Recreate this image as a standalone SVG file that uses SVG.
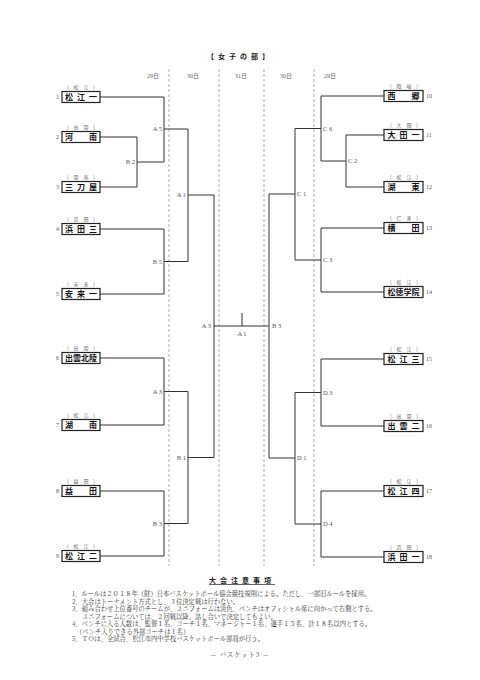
<svg xmlns="http://www.w3.org/2000/svg" width="480" height="680" viewBox="0 0 480 680">
<style>
.bg{fill:#fff}
.dash{stroke:#999;stroke-width:0.8;stroke-dasharray:3,2;fill:none}
.con{stroke:#333;stroke-width:1;fill:none}
.box{fill:#fff;stroke:#222;stroke-width:1.2}
.tn{font-family:"Noto Sans CJK JP","Noto Sans CJK SC",sans-serif;font-size:8px;font-weight:bold;fill:#111}
.rg{font-family:"Noto Sans CJK JP",sans-serif;font-size:5px;fill:#666}
.num{font-family:"Liberation Serif","Noto Sans CJK JP",serif;font-size:6px;fill:#555}
.lb{font-family:"Liberation Serif","Noto Sans CJK JP",serif;font-size:6.5px;fill:#555}
.dt{font-family:"Liberation Serif","Noto Sans CJK JP",serif;font-size:6px;fill:#666}
.tt{font-family:"Noto Sans CJK JP",sans-serif;font-size:7px;font-weight:bold;fill:#222}
.nt{font-family:"Noto Serif CJK JP","Noto Sans CJK JP",serif;font-size:6.3px;fill:#333}
</style>
<rect class="bg" x="0" y="0" width="480" height="680"/>
<text class="tt" x="240" y="59" text-anchor="middle" letter-spacing="4">【女子の部】</text>
<g id="dates">
<text class="dt" x="153" y="78" text-anchor="middle">29日</text>
<text class="dt" x="193" y="78" text-anchor="middle">30日</text>
<text class="dt" x="241" y="78" text-anchor="middle">31日</text>
<text class="dt" x="286" y="78" text-anchor="middle">30日</text>
<text class="dt" x="330" y="78" text-anchor="middle">29日</text>
</g>
<g id="dividers">
<line class="dash" x1="169" y1="69" x2="169" y2="566"/>
<line class="dash" x1="219" y1="69" x2="219" y2="566"/>
<line class="dash" x1="264" y1="69" x2="264" y2="566"/>
<line class="dash" x1="314" y1="69" x2="314" y2="566"/>
</g>
<g id="connectors">
<path class="con" d="M100,97H164V162M100,137H137V187H100M137,162H164M164,129H188"/>
<path class="con" d="M100,229H164V294H100M164,261.5H188M188,129V261.5M188,195H214"/>
<path class="con" d="M100,358H164V425H100M164,391.5H188M100,491H164V556H100M164,523.5H188M188,391.5V523.5M188,457.5H214"/>
<path class="con" d="M214,195V457.5M214,326H269M242,313V326"/>
<path class="con" d="M384,96H321V161M321,128.5H295M384,135H346V187H384M346,161H321"/>
<path class="con" d="M384,228H321V292H384M321,260H295M295,128.5V260M295,194H269"/>
<path class="con" d="M384,359H321V426H384M321,392.5H295M384,491H321V557H384M321,524H295M295,392.5V524M295,458H269M269,194V458"/>
</g>
<g id="round-labels">
<text class="lb" x="162" y="130.5" text-anchor="end">A 5</text>
<text class="lb" x="135" y="164" text-anchor="end">B 2</text>
<text class="lb" x="162" y="263.5" text-anchor="end">B 5</text>
<text class="lb" x="162" y="393.5" text-anchor="end">A 3</text>
<text class="lb" x="162" y="525.5" text-anchor="end">B 3</text>
<text class="lb" x="186" y="197" text-anchor="end">A 1</text>
<text class="lb" x="186" y="459.5" text-anchor="end">B 1</text>
<text class="lb" x="211" y="328" text-anchor="end">A 3</text>
<text class="lb" x="272" y="328">B 3</text>
<text class="lb" x="242" y="336" text-anchor="middle">A 1</text>
<text class="lb" x="323" y="130.5">C 6</text>
<text class="lb" x="348" y="163">C 2</text>
<text class="lb" x="323" y="262">C 3</text>
<text class="lb" x="297" y="196">C 1</text>
<text class="lb" x="323" y="394.5">D 3</text>
<text class="lb" x="323" y="526">D 4</text>
<text class="lb" x="297" y="460">D 1</text>
</g>
<g id="team1"><text class="rg" x="67" y="89" textLength="28" lengthAdjust="spacing">( 松 江 )</text><rect class="box" x="62" y="91.5" width="38" height="11"/><text class="tn" x="65" y="100.3" textLength="32" lengthAdjust="spacing">松江一</text><text class="num" x="59" y="99" text-anchor="end">1</text></g>
<g id="team2"><text class="rg" x="67" y="129" textLength="28" lengthAdjust="spacing">( 出 雲 )</text><rect class="box" x="62" y="131.5" width="38" height="11"/><text class="tn" x="65" y="140.3" textLength="32" lengthAdjust="spacing">河南</text><text class="num" x="59" y="139" text-anchor="end">2</text></g>
<g id="team3"><text class="rg" x="67" y="179" textLength="28" lengthAdjust="spacing">( 雲 南 )</text><rect class="box" x="62" y="181.5" width="38" height="11"/><text class="tn" x="65" y="190.3" textLength="32" lengthAdjust="spacing">三刀屋</text><text class="num" x="59" y="189" text-anchor="end">3</text></g>
<g id="team4"><text class="rg" x="67" y="221" textLength="28" lengthAdjust="spacing">( 浜 田 )</text><rect class="box" x="62" y="223.5" width="38" height="11"/><text class="tn" x="65" y="232.3" textLength="32" lengthAdjust="spacing">浜田三</text><text class="num" x="59" y="231" text-anchor="end">4</text></g>
<g id="team5"><text class="rg" x="67" y="286" textLength="28" lengthAdjust="spacing">( 安 来 )</text><rect class="box" x="62" y="288.5" width="38" height="11"/><text class="tn" x="65" y="297.3" textLength="32" lengthAdjust="spacing">安来一</text><text class="num" x="59" y="296" text-anchor="end">5</text></g>
<g id="team6"><text class="rg" x="67" y="350" textLength="28" lengthAdjust="spacing">( 出 雲 )</text><rect class="box" x="62" y="352.5" width="38" height="11"/><text class="tn" x="65" y="361.3" textLength="32" lengthAdjust="spacing">出雲北陵</text><text class="num" x="59" y="360" text-anchor="end">6</text></g>
<g id="team7"><text class="rg" x="67" y="417" textLength="28" lengthAdjust="spacing">( 松 江 )</text><rect class="box" x="62" y="419.5" width="38" height="11"/><text class="tn" x="65" y="428.3" textLength="32" lengthAdjust="spacing">湖南</text><text class="num" x="59" y="427" text-anchor="end">7</text></g>
<g id="team8"><text class="rg" x="67" y="483" textLength="28" lengthAdjust="spacing">( 益 田 )</text><rect class="box" x="62" y="485.5" width="38" height="11"/><text class="tn" x="65" y="494.3" textLength="32" lengthAdjust="spacing">益田</text><text class="num" x="59" y="493" text-anchor="end">8</text></g>
<g id="team9"><text class="rg" x="67" y="548" textLength="28" lengthAdjust="spacing">( 松 江 )</text><rect class="box" x="62" y="550.5" width="38" height="11"/><text class="tn" x="65" y="559.3" textLength="32" lengthAdjust="spacing">松江二</text><text class="num" x="59" y="558" text-anchor="end">9</text></g>
<g id="team10"><text class="rg" x="390" y="88" textLength="28" lengthAdjust="spacing">( 隠 岐 )</text><rect class="box" x="384" y="90.5" width="39" height="11"/><text class="tn" x="387.5" y="99.3" textLength="32" lengthAdjust="spacing">西郷</text><text class="num" x="426" y="98">10</text></g>
<g id="team11"><text class="rg" x="390" y="127" textLength="28" lengthAdjust="spacing">( 大 田 )</text><rect class="box" x="384" y="129.5" width="39" height="11"/><text class="tn" x="387.5" y="138.3" textLength="32" lengthAdjust="spacing">大田一</text><text class="num" x="426" y="137">11</text></g>
<g id="team12"><text class="rg" x="390" y="179" textLength="28" lengthAdjust="spacing">( 松 江 )</text><rect class="box" x="384" y="181.5" width="39" height="11"/><text class="tn" x="387.5" y="190.3" textLength="32" lengthAdjust="spacing">湖東</text><text class="num" x="426" y="189">12</text></g>
<g id="team13"><text class="rg" x="390" y="220" textLength="28" lengthAdjust="spacing">( 仁 多 )</text><rect class="box" x="384" y="222.5" width="39" height="11"/><text class="tn" x="387.5" y="231.3" textLength="32" lengthAdjust="spacing">横田</text><text class="num" x="426" y="230">13</text></g>
<g id="team14"><text class="rg" x="390" y="284" textLength="28" lengthAdjust="spacing">( 松 江 )</text><rect class="box" x="384" y="286.5" width="39" height="11"/><text class="tn" x="387.5" y="295.3" textLength="32" lengthAdjust="spacing">松徳学院</text><text class="num" x="426" y="294">14</text></g>
<g id="team15"><text class="rg" x="390" y="351" textLength="28" lengthAdjust="spacing">( 松 江 )</text><rect class="box" x="384" y="353.5" width="39" height="11"/><text class="tn" x="387.5" y="362.3" textLength="32" lengthAdjust="spacing">松江三</text><text class="num" x="426" y="361">15</text></g>
<g id="team16"><text class="rg" x="390" y="418" textLength="28" lengthAdjust="spacing">( 出 雲 )</text><rect class="box" x="384" y="420.5" width="39" height="11"/><text class="tn" x="387.5" y="429.3" textLength="32" lengthAdjust="spacing">出雲二</text><text class="num" x="426" y="428">16</text></g>
<g id="team17"><text class="rg" x="390" y="483" textLength="28" lengthAdjust="spacing">( 松 江 )</text><rect class="box" x="384" y="485.5" width="39" height="11"/><text class="tn" x="387.5" y="494.3" textLength="32" lengthAdjust="spacing">松江四</text><text class="num" x="426" y="493">17</text></g>
<g id="team18"><text class="rg" x="390" y="549" textLength="28" lengthAdjust="spacing">( 浜 田 )</text><rect class="box" x="384" y="551.5" width="39" height="11"/><text class="tn" x="387.5" y="560.3" textLength="32" lengthAdjust="spacing">浜田一</text><text class="num" x="426" y="559">18</text></g>
<g id="notes">
<text class="tt" x="242" y="583" text-anchor="middle" letter-spacing="4" text-decoration="underline">大会注意事項</text>
<text class="nt" x="72" y="596">1．ルールは２０１８年（財）日本バスケットボール協会競技規則による。ただし、一部旧ルールを採用。</text>
<text class="nt" x="72" y="603.5">2．大会はトーナメント方式とし、３位決定戦は行わない。</text>
<text class="nt" x="72" y="611">3．組み合わせ上位番号のチームが、ユニフォームは淡色、ベンチはオフィシャル席に向かって右側とする。</text>
<text class="nt" x="82" y="618.5">ユニフォームについては、２回戦以降、話し合いで決定してもよい。</text>
<text class="nt" x="72" y="626">4．ベンチに入る人数は、監督１名、コーチ１名、マネージャー１名、選手１５名、計１８名以内とする。</text>
<text class="nt" x="76" y="633.5">（ベンチ入りできる外部コーチは１名）</text>
<text class="nt" x="72" y="641">5．ＴＯは、全試合、松江市内中学校バスケットボール部員が行う。</text>
<text class="nt" x="240" y="657" text-anchor="middle" letter-spacing="1">— バスケット3 —</text>
</g>
</svg>
